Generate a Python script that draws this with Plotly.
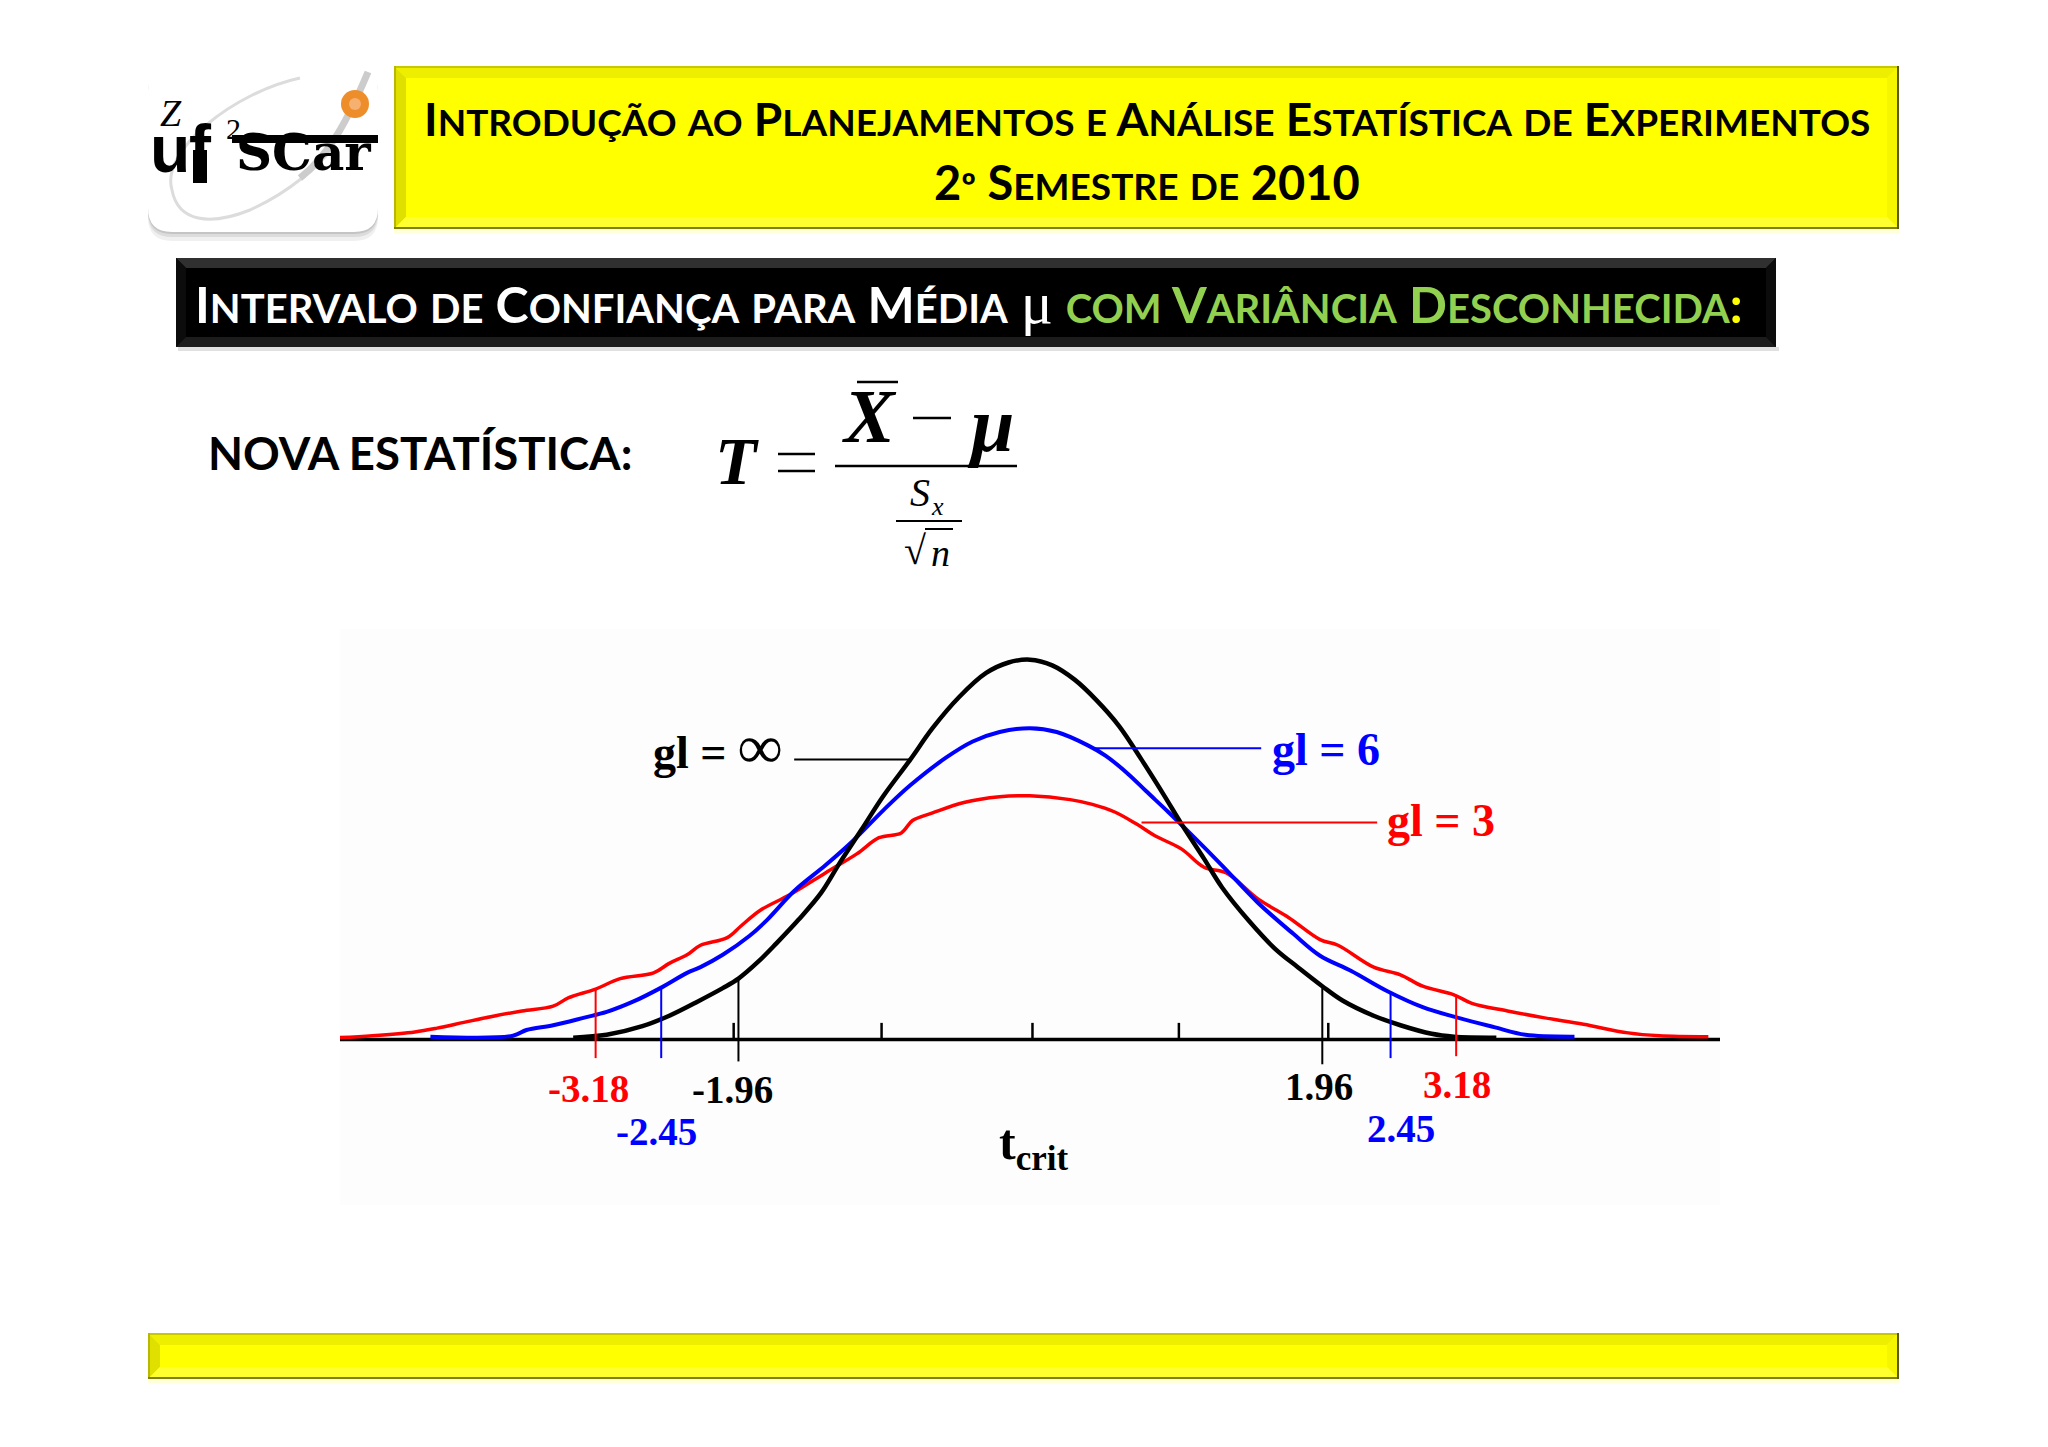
import plotly.graph_objects as go

W = 2048
H = 1447

# curves (t, density)
red_t = [-4.646,-4.428,-4.144,-3.995,-3.816,-3.636,-3.427,-3.218,-3.114,-2.934,-2.770,-2.546,-2.441,-2.322,-2.232,-2.053,-1.963,-1.829,-1.635,-1.396,-1.186,-1.037,-0.888,-0.813,-0.679,-0.469,-0.230,-0.027,0.242,0.391,0.541,0.690,0.810,0.989,1.138,1.288,1.497,1.706,1.915,2.035,2.274,2.453,2.602,2.811,2.931,3.170,3.409,3.678,3.977,4.186,4.514]
red_d = [.002,.004,.008,.012,.018,.024,.030,.035,.044,.053,.064,.070,.080,.089,.099,.107,.119,.136,.152,.175,.195,.212,.217,.230,.238,.249,.255,.256,.252,.247,.239,.226,.214,.200,.181,.175,.148,.128,.105,.099,.076,.068,.056,.047,.038,.030,.023,.016,.007,.004,.003]
blue_t = [-4.040,-3.487,-3.397,-3.218,-3.009,-2.860,-2.680,-2.501,-2.322,-2.232,-2.083,-1.903,-1.784,-1.605,-1.396,-1.216,-1.007,-0.828,-0.589,-0.410,-0.230,-0.027,0.152,0.361,0.481,0.630,0.750,0.899,1.049,1.258,1.497,1.736,1.915,2.124,2.363,2.602,2.811,3.080,3.290,3.618]
blue_d = [.003,.004,.010,.015,.023,.029,.040,.054,.070,.076,.089,.109,.126,.156,.183,.208,.241,.267,.296,.313,.323,.327,.323,.309,.298,.279,.261,.239,.216,.183,.144,.111,.088,.072,.051,.034,.024,.013,.005,.003]
black_t = [-3.084,-2.860,-2.621,-2.441,-2.262,-2.083,-1.978,-1.844,-1.724,-1.575,-1.425,-1.306,-1.156,-1.007,-0.828,-0.679,-0.499,-0.320,-0.170,-0.027,0.122,0.272,0.421,0.571,0.720,0.869,0.989,1.138,1.258,1.437,1.616,1.766,1.930,2.065,2.274,2.453,2.662,2.811,3.095]
black_d = [.002,.005,.014,.025,.039,.054,.064,.082,.101,.126,.154,.184,.220,.256,.294,.327,.360,.385,.396,.399,.393,.378,.356,.329,.294,.257,.226,.190,.160,.125,.095,.076,.056,.041,.025,.015,.006,.003,.002]

# tick positions on the axis
tick_t = [-2.01,-1.02,-0.01,0.97,1.97]

# critical value marks
crit_labels = ["-3.18","-2.45","-1.96","1.96","2.45","3.18"]
crit_colors = ["#ff0000","#0000ff","#000000","#000000","#0000ff","#ff0000"]
crit_t = [-2.934,-2.495,-1.978,1.930,2.387,2.826]
crit_top = [.053,.056,.064,.054,.049,.047]
crit_bottom = [-.0195,-.0195,-.023,-.026,-.0195,-.0175]
label_t = [-2.985,-2.525,-2.017,1.911,2.456,2.832]
label_d = [-.051,-.097,-.053,-.049,-.093,-.047]

# curve labels with their leader lines
gl_labels = ['gl = <span style="font-size:62px">∞</span>',"gl = 6","gl = 3"]
gl_colors = ["#000000","#0000ff","#ff0000"]
gl_t = [-2.115,1.955,2.725]
gl_d = [.307,.305,.230]
leader_start = [-1.605,0.391,0.720]
leader_end = [-0.828,1.521,2.297]
leader_d = [.294,.306,.228]

title_1 = "Introdução ao Planejamentos e Análise Estatística de Experimentos"
title_2 = "2º Semestre de 2010"
bar_white = "Intervalo de Confiança para Média"
bar_green = "com Variância Desconhecida"
nova_text = "NOVA ESTATÍSTICA:"

YELLOW = "#ffff00"
SANS = "Lato"
SERIF = "Liberation Serif"


def px(x):
    return x / W


def py(y):
    return 1 - y / H


def small_caps(text, big, small, color=None):
    # big letters stay, lower case becomes small upper case
    out = ""
    col = "color:%s;" % color if color else ""
    for ch in text:
        if ch.islower():
            out += '<span style="%sfont-size:%dpx">%s</span>' % (col, small, ch.upper())
        else:
            out += '<span style="%sfont-size:%dpx">%s</span>' % (col, big, ch)
    return "<b>" + out + "</b>"


def path_px(points):
    # points are (command, x, y, ...) in page pixels
    s = ""
    for p in points:
        s += p[0]
        nums = p[1:]
        pairs = []
        for i in range(0, len(nums), 2):
            pairs.append("%.5f,%.5f" % (px(nums[i]), py(nums[i + 1])))
        s += " ".join(pairs) + " "
    return s


shapes = []


def rect(x0, y0, x1, y1, color, layer="below"):
    shapes.append(dict(type="rect", xref="paper", yref="paper", x0=px(x0), x1=px(x1),
                       y0=py(y0), y1=py(y1), fillcolor=color, line_width=0, layer=layer))


def poly(pts, color):
    d = "M%.5f,%.5f " % (px(pts[0][0]), py(pts[0][1]))
    for p in pts[1:]:
        d += "L%.5f,%.5f " % (px(p[0]), py(p[1]))
    shapes.append(dict(type="path", xref="paper", yref="paper", path=d + "Z",
                       fillcolor=color, line_width=0, layer="below"))


def hline(x0, x1, y, color="#000000", w=2.5):
    shapes.append(dict(type="line", xref="paper", yref="paper", x0=px(x0), x1=px(x1),
                       y0=py(y), y1=py(y), line=dict(color=color, width=w)))


def bevel(x0, y0, x1, y1, b, base, top, left, right, bottom):
    rect(x0, y0, x1, y1, base)
    poly([(x0, y0), (x1, y0), (x1 - b, y0 + b), (x0 + b, y0 + b)], top)
    poly([(x0, y0), (x0 + b, y0 + b), (x0 + b, y1 - b), (x0, y1)], left)
    poly([(x1, y0), (x1 - b, y0 + b), (x1 - b, y1 - b), (x1, y1)], right)
    poly([(x0, y1), (x0 + b, y1 - b), (x1 - b, y1 - b), (x1, y1)], bottom)


def yellow_box(x0, y0, x1, y1):
    rect(x0, y1, x1, y1 + 4, "#ffffd8")
    bevel(x0, y0, x1, y1, 12, YELLOW, "#eeee00", "#e0e000", "#f6f600", "#ffff30")
    rect(x0, y0, x1, y0 + 2, "#c8c800")
    rect(x0, y0, x0 + 2, y1, "#b8b800")
    rect(x0, y1 - 2, x1, y1, "#808010")
    rect(x1 - 2, y0, x1, y1, "#5a5a10")


def page_text(x, y, text, size, color="#000000", family=SANS, anchor="center"):
    return dict(xref="paper", yref="paper", x=px(x), y=py(y), text=text, showarrow=False,
                xanchor=anchor, yanchor="middle", font=dict(size=size, color=color, family=family))


# header and footer bands
yellow_box(394, 66, 1899, 229)
yellow_box(148, 1333, 1899, 1379)

# black bar
rect(178, 347, 1779, 351, "#e0e0e0")
bevel(176, 258, 1776, 347, 10, "#000000", "#303030", "#0c0c0c", "#0c0c0c", "#1c1c1c")

# logo card
r = 24
for off, col in ((9, "#f0f0f0"), (5, "#dcdcdc"), (2, "#c4c4c4")):
    shapes.append(dict(type="path", xref="paper", yref="paper", layer="below", line_width=0, fillcolor=col,
                       path=path_px([("M", 148 + r, 67 + off), ("L", 378 - r, 67 + off), ("Q", 378, 67 + off, 378, 67 + r + off),
                                     ("L", 378, 232 - r + off), ("Q", 378, 232 + off, 378 - r, 232 + off), ("L", 148 + r, 232 + off),
                                     ("Q", 148, 232 + off, 148, 232 - r + off), ("L", 148, 67 + r + off), ("Q", 148, 67 + off, 148 + r, 67 + off)]) + "Z"))
shapes.append(dict(type="path", xref="paper", yref="paper", layer="below", line_width=0, fillcolor="#ffffff",
                   path=path_px([("M", 148 + r, 67), ("L", 378 - r, 67), ("Q", 378, 67, 378, 67 + r),
                                 ("L", 378, 232 - r), ("Q", 378, 232, 378 - r, 232), ("L", 148 + r, 232),
                                 ("Q", 148, 232, 148, 232 - r), ("L", 148, 67 + r), ("Q", 148, 67, 148 + r, 67)]) + "Z"))
shapes.append(dict(type="path", xref="paper", yref="paper", layer="below", line=dict(color="#dcdcdc", width=3),
                   path=path_px([("M", 300, 78), ("C", 235, 92, 160, 150, 172, 190), ("C", 178, 222, 210, 226, 250, 210),
                                 ("C", 290, 192, 320, 165, 335, 145)])))
shapes.append(dict(type="path", xref="paper", yref="paper", layer="below", line=dict(color="#cccccc", width=7),
                   path=path_px([("M", 300, 178), ("C", 330, 155, 350, 115, 368, 72)])))
rect(232, 135, 378, 143, "#000000", layer="above")
rect(193, 150, 207, 183, "#000000", layer="above")
shapes.append(dict(type="circle", xref="paper", yref="paper", x0=px(341), x1=px(369), y0=py(118), y1=py(90),
                   fillcolor="#ee8e2a", line_width=0))
shapes.append(dict(type="circle", xref="paper", yref="paper", x0=px(349), x1=px(361), y0=py(110), y1=py(98),
                   fillcolor="#f6b070", line_width=0))

# formula lines
hline(835, 1017, 466)
hline(857, 898, 382)
hline(913, 951, 418)
hline(896, 962, 521, w=2)
hline(925, 953, 529, w=2)
hline(778, 815, 454, w=2.5)
hline(778, 815, 471, w=2.5)

annotations = [
    page_text(1147, 118, small_caps(title_1, 46, 37), 46),
    page_text(1147, 182, small_caps(title_2, 47, 37), 47),
    page_text(193, 303, small_caps(bar_white, 50, 40)
              + ' <span style="font-family:%s;font-size:60px">μ</span> ' % SERIF
              + small_caps(bar_green, 50, 40, "#92d050")
              + '<span style="color:#ffff00;font-size:50px"><b>:</b></span>', 50, "#ffffff", anchor="left"),
    page_text(206, 453, "<b>" + nova_text + "</b>", 45.5, anchor="left"),
    # formula glyphs
    page_text(737, 461, "<b><i>T</i></b>", 68, family=SERIF),
    page_text(869, 416, "<b><i>X</i></b>", 76, family=SERIF),
    page_text(990, 424, "<b><i>μ</i></b>", 78, family=SERIF),
    page_text(920, 492, "<i>S</i>", 40, family=SERIF),
    page_text(937, 507, "<i>x</i>", 26, family=SERIF),
    page_text(915, 550, "√", 40, family=SERIF),
    page_text(940, 553, "<i>n</i>", 38, family=SERIF),
    # logo glyphs
    page_text(171, 113, "<i>Z</i>", 38, family=SERIF),
    page_text(233, 128, "2", 30, family=SERIF),
    page_text(148, 149, "<b>u</b>", 66, family="Liberation Sans", anchor="left"),
    page_text(187, 148, "<b>f</b>", 66, family="Liberation Sans", anchor="left"),
    page_text(234, 153, "<b>SCar</b>", 50, family="DejaVu Serif", anchor="left"),
]

# labels on the chart, in axis units
for t, d, txt, col in zip(label_t, label_d, crit_labels, crit_colors):
    annotations.append(dict(x=t, y=d, xref="x", yref="y", text="<b>%s</b>" % txt, showarrow=False,
                            font=dict(size=39, color=col, family=SERIF)))
for t, d, txt, col in zip(gl_t, gl_d, gl_labels, gl_colors):
    annotations.append(dict(x=t, y=d, xref="x", yref="y", text="<b>%s</b>" % txt, showarrow=False,
                            font=dict(size=46, color=col, family=SERIF)))
annotations.append(dict(x=-0.005, y=-.112, xref="x", yref="y", text="<b>t<sub>crit</sub></b>", showarrow=False,
                        font=dict(size=50, color="#000000", family=SERIF)))

fig = go.Figure()

# axis line and ticks
fig.add_trace(go.Scatter(x=[-4.645, 4.592], y=[0, 0], mode="lines", line=dict(color="#000000", width=3.5)))
for t in tick_t:
    fig.add_trace(go.Scatter(x=[t, t], y=[0, 0.0175], mode="lines", line=dict(color="#000000", width=2.5)))

fig.add_trace(go.Scatter(x=red_t, y=red_d, mode="lines", line=dict(color="#ff0000", width=3.5, shape="spline")))
fig.add_trace(go.Scatter(x=blue_t, y=blue_d, mode="lines", line=dict(color="#0000ff", width=4, shape="spline")))
fig.add_trace(go.Scatter(x=black_t, y=black_d, mode="lines", line=dict(color="#000000", width=4.5, shape="spline")))

for t, top, bottom, col in zip(crit_t, crit_top, crit_bottom, crit_colors):
    fig.add_trace(go.Scatter(x=[t, t], y=[bottom, top], mode="lines", line=dict(color=col, width=2)))
for x0, x1, d, col in zip(leader_start, leader_end, leader_d, gl_colors):
    fig.add_trace(go.Scatter(x=[x0, x1], y=[d, d], mode="lines", line=dict(color=col, width=2)))

fig.update_layout(
    width=W,
    height=H,
    margin=dict(l=0, r=0, t=0, b=0),
    paper_bgcolor="#ffffff",
    plot_bgcolor="#fdfdfe",
    showlegend=False,
    shapes=shapes,
    annotations=annotations,
    xaxis=dict(domain=[340 / W, 1720 / W], range=[-4.645, 4.592], visible=False),
    yaxis=dict(domain=[1 - 1205 / H, 1 - 629 / H], range=[-0.1738, 0.4312], visible=False),
)

fig.write_html("out.html", config=dict(displayModeBar=False),
               post_script="document.body.style.margin='0';document.body.style.overflow='hidden';")
